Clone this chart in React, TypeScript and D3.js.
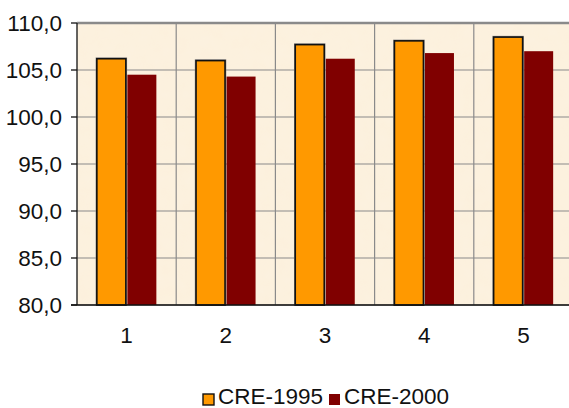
import React from "react";
import * as d3 from "d3";

const categories = ["1", "2", "3", "4", "5"];
const seriesNames = ["CRE-1995", "CRE-2000"];
const cre1995 = [106.2, 106.0, 107.7, 108.1, 108.5];
const cre2000 = [104.5, 104.3, 106.2, 106.8, 107.0];
const yTicks = [80, 85, 90, 95, 100, 105, 110];
const seriesColors = ["#FF9900", "#800000"];

const W = 569;
const H = 408;
const plot = { left: 77, top: 23, right: 573, bottom: 305 };
const FONT = "'Liberation Sans', Arial, sans-serif";
const FS = 22.5;

export default function App() {
  const x = d3.scaleBand<string>().domain(categories).range([plot.left, plot.right]).padding(0);
  const bw = x.bandwidth();
  const inner = d3
    .scaleBand<string>()
    .domain(seriesNames)
    .range([bw * 0.2, bw * 0.8])
    .paddingInner(0.05);
  const y = d3.scaleLinear().domain([80, 110]).range([plot.bottom, plot.top]);
  const fmt = (v: number) => d3.format(".1f")(v).replace(".", ",");
  const series = [cre1995, cre2000];

  return (
    <svg width={W} height={H} style={{ display: "block", position: "absolute", left: 0, top: 0 }}>
      <defs>
        <filter id="paper" x="0" y="0" width="100%" height="100%">
          <feTurbulence type="fractalNoise" baseFrequency="0.08" numOctaves="2" seed="3" result="n" />
          <feColorMatrix
            in="n"
            type="matrix"
            values="0 0 0 0 0.98  0 0 0 0 0.91  0 0 0 0 0.80  0 0 0 0.35 0"
            result="c"
          />
          <feComposite in="c" in2="SourceGraphic" operator="in" />
        </filter>
      </defs>
      <rect x={0} y={0} width={W} height={H} fill="#ffffff" />
      <rect
        x={plot.left}
        y={plot.top}
        width={plot.right - plot.left}
        height={plot.bottom - plot.top}
        fill="#FCF0DC"
      />
      <rect
        x={plot.left}
        y={plot.top}
        width={plot.right - plot.left}
        height={plot.bottom - plot.top}
        fill="#FCF0DC"
        filter="url(#paper)"
      />
      {yTicks.map((t) => (
        <line
          key={"h" + t}
          x1={plot.left}
          x2={plot.right}
          y1={y(t)}
          y2={y(t)}
          stroke="#8a8a8a"
          strokeWidth={t === 110 ? 2.5 : 1.2}
        />
      ))}
      {categories.slice(1).map((c) => (
        <line
          key={"v" + c}
          x1={x(c)!}
          x2={x(c)!}
          y1={plot.top}
          y2={plot.bottom}
          stroke="#8a8a8a"
          strokeWidth={1.2}
        />
      ))}
      {categories.map((c, i) =>
        seriesNames.map((s, j) => {
          const bx = x(c)! + inner(s)!;
          const by = y(series[j][i]);
          const bh = plot.bottom - by;
          return j === 0 ? (
            <g key={c + s}>
              <rect x={bx - 0.5} y={by - 0.5} width={inner.bandwidth() + 1} height={bh + 0.5} fill="none" stroke="#8a8a8a" strokeWidth={1.5} />
              <rect x={bx} y={by} width={inner.bandwidth()} height={bh} fill={seriesColors[j]} stroke="#111" strokeWidth={1.6} />
            </g>
          ) : (
            <rect key={c + s} x={bx} y={by} width={inner.bandwidth()} height={bh} fill={seriesColors[j]} />
          );
        })
      )}
      <line x1={plot.left} x2={plot.left} y1={plot.top} y2={plot.bottom} stroke="#111" strokeWidth={1.3} />
      <line x1={plot.left - 6} x2={plot.right} y1={plot.bottom} y2={plot.bottom} stroke="#111" strokeWidth={1.3} />
      {yTicks.map((t) => (
        <g key={"t" + t}>
          <line x1={plot.left - 6} x2={plot.left} y1={y(t)} y2={y(t)} stroke="#111" strokeWidth={1.3} />
          <text
            x={plot.left - 15}
            y={y(t)}
            dy="0.35em"
            textAnchor="end"
            fontFamily={FONT}
            fontSize={FS}
            fill="#111"
          >
            {fmt(t)}
          </text>
        </g>
      ))}
      {categories.map((c) => (
        <text
          key={"x" + c}
          x={x(c)! + bw / 2}
          y={343}
          textAnchor="middle"
          fontFamily={FONT}
          fontSize={FS}
          fill="#111"
        >
          {c}
        </text>
      ))}
      {seriesNames.map((s, j) => {
        const lx = [203, 329][j];
        return (
          <g key={"l" + s}>
            <rect
              x={lx}
              y={394}
              width={11}
              height={11}
              fill={seriesColors[j]}
              stroke={j === 0 ? "#111" : "none"}
              strokeWidth={1.4}
            />
            <text x={lx + 15} y={404} fontFamily={FONT} fontSize={FS} fill="#111">
              {s}
            </text>
          </g>
        );
      })}
    </svg>
  );
}
